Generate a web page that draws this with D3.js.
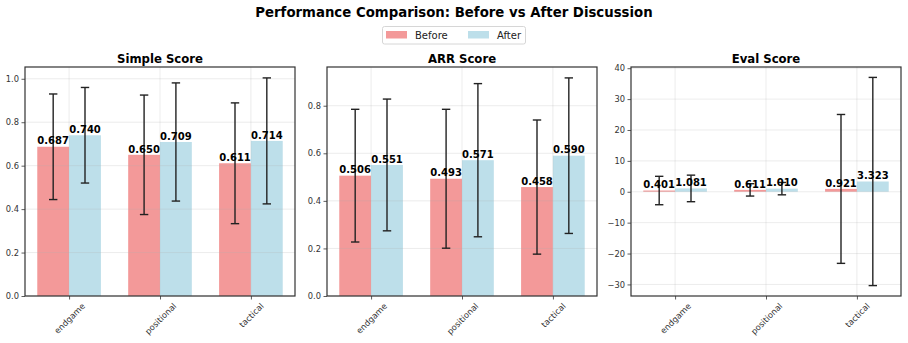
<!DOCTYPE html>
<html>
<head>
<meta charset="utf-8">
<title>Performance Comparison</title>
<script src="https://d3js.org/d3.v7.min.js"></script>
<style>
  body { margin: 0; background: #fff; }
  svg { font-family: "DejaVu Sans", sans-serif; display: block; }
  .tick text { fill: #333; }
</style>
</head>
<body>
<script>

var categories = ["endgame", "positional", "tactical"];
var seriesNames = ["Before", "After"];
var seriesColors = ["#f39999", "#bddfea"];

var simpleBefore = [0.687, 0.650, 0.611];
var simpleAfter = [0.740, 0.709, 0.714];
var simpleBeforeErr = [0.243, 0.275, 0.278];
var simpleAfterErr = [0.220, 0.272, 0.290];

var arrBefore = [0.506, 0.493, 0.458];
var arrAfter = [0.551, 0.571, 0.590];
var arrBeforeErr = [0.279, 0.292, 0.282];
var arrAfterErr = [0.277, 0.322, 0.327];

var evalBefore = [0.401, 0.611, 0.921];
var evalAfter = [1.081, 1.010, 3.323];
var evalBeforeErr = [4.6, 2.0, 24.1];
var evalAfterErr = [4.3, 2.0, 33.7];

var simpleTicks = [0, 0.2, 0.4, 0.6, 0.8, 1.0];
var arrTicks = [0, 0.2, 0.4, 0.6, 0.8];
var evalTicks = [-30, -20, -10, 0, 10, 20, 30, 40];

var panels = [
  { title: "Simple Score", before: simpleBefore, after: simpleAfter, beforeErr: simpleBeforeErr, afterErr: simpleAfterErr, ticks: simpleTicks, fmt: d3.format(".1f"), left: 25 },
  { title: "ARR Score", before: arrBefore, after: arrAfter, beforeErr: arrBeforeErr, afterErr: arrAfterErr, ticks: arrTicks, fmt: d3.format(".1f"), left: 327 },
  { title: "Eval Score", before: evalBefore, after: evalAfter, beforeErr: evalBeforeErr, afterErr: evalAfterErr, ticks: evalTicks, fmt: d3.format("d"), left: 631 }
];

var width = 908, height = 343;
var plotW = 270, plotTop = 67, plotBottom = 296;
var barW = 0.35;

var svg = d3.select("body").append("svg")
    .attr("width", width)
    .attr("height", height);

svg.append("text")
    .attr("x", width / 2)
    .attr("y", 17)
    .attr("text-anchor", "middle")
    .style("font-size", "13.3px")
    .style("font-weight", "bold")
    .text("Performance Comparison: Before vs After Discussion");

// legend
var legend = svg.append("g");
legend.append("rect")
    .attr("x", 382.5).attr("y", 26.5)
    .attr("width", 143).attr("height", 17.5)
    .attr("rx", 2)
    .attr("fill", "#fff")
    .attr("stroke", "#d6d6d6");
var legX = [386, 468];
seriesNames.forEach(function(name, i) {
  legend.append("rect")
      .attr("x", legX[i]).attr("y", 31)
      .attr("width", 21).attr("height", 7.5)
      .attr("fill", seriesColors[i]);
  legend.append("text")
      .attr("x", legX[i] + 29).attr("y", 38.8)
      .style("font-size", "10px")
      .attr("fill", "#222")
      .text(name);
});

panels.forEach(function(p) {
  var g = svg.append("g").attr("transform", "translate(" + p.left + ",0)");

  var lows = p.before.map(function(v, i) { return v - p.beforeErr[i]; })
      .concat(p.after.map(function(v, i) { return v - p.afterErr[i]; }));
  var highs = p.before.map(function(v, i) { return v + p.beforeErr[i]; })
      .concat(p.after.map(function(v, i) { return v + p.afterErr[i]; }));
  var lo = Math.min(0, d3.min(lows)), hi = d3.max(highs);
  var pad = (hi - lo) * 0.05;
  var y = d3.scaleLinear()
      .domain([lo < 0 ? lo - pad : 0, hi + pad])
      .range([plotBottom, plotTop]);

  var xPad = (categories.length - 1 + 2 * barW) * 0.05;
  var x = d3.scaleLinear()
      .domain([-barW - xPad, categories.length - 1 + barW + xPad])
      .range([0, plotW]);

  var series = [
    { vals: p.before, errs: p.beforeErr, off: -barW / 2, color: seriesColors[0] },
    { vals: p.after, errs: p.afterErr, off: barW / 2, color: seriesColors[1] }
  ];

  // bars
  series.forEach(function(s) {
    g.selectAll(null)
        .data(s.vals)
      .enter().append("rect")
        .attr("x", function(d, i) { return x(i + s.off - barW / 2); })
        .attr("width", x(barW) - x(0))
        .attr("y", function(d) { return y(Math.max(d, 0)); })
        .attr("height", function(d) { return Math.abs(y(d) - y(0)); })
        .attr("fill", s.color);
  });

  // grid
  var grid = g.append("g").attr("stroke", "#b0b0b0").attr("stroke-opacity", 0.3).attr("stroke-width", 0.8);
  grid.selectAll(null)
      .data(p.ticks)
    .enter().append("line")
      .attr("x1", 0).attr("x2", plotW)
      .attr("y1", function(d) { return y(d); })
      .attr("y2", function(d) { return y(d); });
  grid.selectAll(null)
      .data(categories)
    .enter().append("line")
      .attr("x1", function(d, i) { return x(i); })
      .attr("x2", function(d, i) { return x(i); })
      .attr("y1", plotTop).attr("y2", plotBottom);

  // error bars
  series.forEach(function(s) {
    var eb = g.selectAll(null)
        .data(s.vals)
      .enter().append("g")
        .attr("stroke", "#222")
        .attr("stroke-width", 1.4);
    var cx = function(d, i) { return x(i + s.off); };
    eb.append("line")
        .attr("x1", cx).attr("x2", cx)
        .attr("y1", function(d, i) { return y(d - s.errs[i]); })
        .attr("y2", function(d, i) { return y(d + s.errs[i]); });
    [1, -1].forEach(function(sign) {
      eb.append("line")
          .attr("x1", function(d, i) { return x(i + s.off) - 4.2; })
          .attr("x2", function(d, i) { return x(i + s.off) + 4.2; })
          .attr("y1", function(d, i) { return y(d + sign * s.errs[i]); })
          .attr("y2", function(d, i) { return y(d + sign * s.errs[i]); });
    });
  });

  // value labels
  series.forEach(function(s) {
    g.selectAll(null)
        .data(s.vals)
      .enter().append("text")
        .attr("x", function(d, i) { return x(i + s.off); })
        .attr("y", function(d) { return y(d) - 2.3; })
        .attr("text-anchor", "middle")
        .style("font-size", "10px")
        .style("font-weight", "bold")
        .text(function(d) { return d3.format(".3f")(d); });
  });

  // axes
  var yAxis = g.append("g")
      .call(d3.axisLeft(y).tickValues(p.ticks).tickFormat(p.fmt).tickSize(3.5).tickPadding(2.5));
  yAxis.select(".domain").remove();
  yAxis.selectAll(".tick line").attr("stroke", "#333").attr("stroke-width", 0.8);
  yAxis.selectAll(".tick text").style("font-size", "8.3px").style("font-family", "DejaVu Sans");

  var xAxis = g.append("g")
      .attr("transform", "translate(0," + plotBottom + ")")
      .call(d3.axisBottom(x).tickValues(d3.range(categories.length)).tickFormat(function(d) { return categories[d]; }).tickSize(3.5));
  xAxis.select(".domain").remove();
  xAxis.selectAll(".tick line").attr("stroke", "#333").attr("stroke-width", 0.8);
  xAxis.selectAll(".tick text")
      .style("font-size", "8.3px")
      .style("font-family", "DejaVu Sans")
      .attr("text-anchor", "middle")
      .attr("dy", null)
      .attr("y", 0)
      .attr("dominant-baseline", "central")
      .attr("transform", function() {
        var w = this.getComputedTextLength();
        var half = (w + 8.3) * Math.SQRT1_2 / 2;
        return "translate(0," + (5.5 + half) + ") rotate(-45)";
      });

  // frame
  g.append("rect")
      .attr("x", 0).attr("y", plotTop)
      .attr("width", plotW).attr("height", plotBottom - plotTop)
      .attr("fill", "none")
      .attr("stroke", "#333")
      .attr("stroke-width", 1.2);

  g.append("text")
      .attr("x", plotW / 2)
      .attr("y", plotTop - 4.5)
      .attr("text-anchor", "middle")
      .style("font-size", "11.7px")
      .style("font-weight", "bold")
      .text(p.title);
});

</script>
</body>
</html>
